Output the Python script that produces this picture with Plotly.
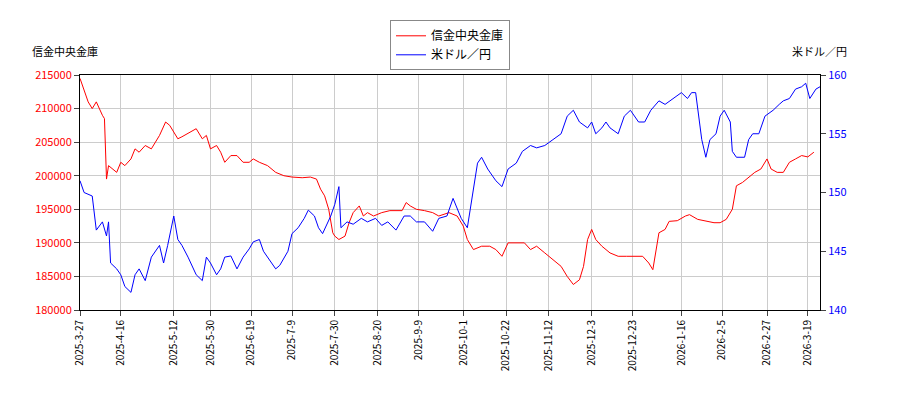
import plotly.graph_objects as go

# 信金中央金庫 (left axis)
shinkin_dates = ['2025-03-27','2025-03-31','2025-04-02','2025-04-04','2025-04-07','2025-04-08','2025-04-09','2025-04-10','2025-04-14','2025-04-16','2025-04-18','2025-04-21','2025-04-23','2025-04-25','2025-04-28','2025-05-01','2025-05-05','2025-05-08','2025-05-10','2025-05-12','2025-05-14','2025-05-16','2025-05-20','2025-05-23','2025-05-26','2025-05-28','2025-05-30','2025-06-02','2025-06-04','2025-06-06','2025-06-09','2025-06-12','2025-06-15','2025-06-18','2025-06-20','2025-06-23','2025-06-27','2025-07-01','2025-07-05','2025-07-09','2025-07-14','2025-07-18','2025-07-21','2025-07-23','2025-07-25','2025-07-27','2025-07-29','2025-07-30','2025-08-01','2025-08-04','2025-08-06','2025-08-08','2025-08-11','2025-08-13','2025-08-15','2025-08-18','2025-08-22','2025-08-26','2025-09-01','2025-09-03','2025-09-05','2025-09-08','2025-09-12','2025-09-16','2025-09-19','2025-09-24','2025-09-28','2025-10-01','2025-10-03','2025-10-06','2025-10-10','2025-10-14','2025-10-17','2025-10-20','2025-10-23','2025-10-27','2025-10-31','2025-11-03','2025-11-06','2025-11-10','2025-11-14','2025-11-18','2025-11-21','2025-11-24','2025-11-27','2025-11-29','2025-12-01','2025-12-03','2025-12-05','2025-12-08','2025-12-12','2025-12-16','2025-12-20','2025-12-24','2025-12-28','2025-12-31','2026-01-02','2026-01-05','2026-01-08','2026-01-10','2026-01-14','2026-01-18','2026-01-20','2026-01-24','2026-01-28','2026-02-01','2026-02-04','2026-02-07','2026-02-10','2026-02-12','2026-02-15','2026-02-18','2026-02-21','2026-02-24','2026-02-27','2026-03-01','2026-03-04','2026-03-07','2026-03-10','2026-03-13','2026-03-16','2026-03-19','2026-03-22']
shinkin = [214500,211000,210000,211000,209000,208500,199500,201500,200500,202000,201500,202500,204000,203500,204500,204000,206000,208000,207500,206500,205500,205800,206500,207000,205500,206000,204000,204500,203500,202000,203000,203000,202000,202000,202500,202000,201500,200500,200000,199800,199700,199800,199500,198000,197000,195000,191500,191000,190500,191000,193000,194500,195500,194000,194500,194000,194500,194800,194800,196000,195500,195000,194800,194500,194000,194500,194000,192500,190500,189000,189500,189500,189000,188000,190000,190000,190000,189000,189500,188500,187500,186500,185000,183800,184500,186500,190500,192000,190500,189500,188500,188000,188000,188000,188000,187000,186000,191500,192000,193200,193300,194000,194200,193500,193300,193000,193000,193500,195000,198500,199000,199800,200500,201000,202500,201000,200500,200500,202000,202500,203000,202800,203500]

# 米ドル／円 (right axis)
usd_dates = ['2025-03-27','2025-03-29','2025-04-02','2025-04-04','2025-04-07','2025-04-09','2025-04-10','2025-04-11','2025-04-14','2025-04-16','2025-04-18','2025-04-21','2025-04-23','2025-04-25','2025-04-28','2025-05-01','2025-05-05','2025-05-07','2025-05-09','2025-05-12','2025-05-14','2025-05-16','2025-05-19','2025-05-21','2025-05-23','2025-05-26','2025-05-28','2025-05-30','2025-06-02','2025-06-04','2025-06-06','2025-06-09','2025-06-12','2025-06-15','2025-06-18','2025-06-20','2025-06-23','2025-06-25','2025-06-27','2025-07-01','2025-07-03','2025-07-07','2025-07-09','2025-07-12','2025-07-15','2025-07-17','2025-07-20','2025-07-22','2025-07-24','2025-07-28','2025-07-30','2025-08-01','2025-08-02','2025-08-05','2025-08-08','2025-08-12','2025-08-15','2025-08-19','2025-08-22','2025-08-25','2025-08-29','2025-09-02','2025-09-05','2025-09-08','2025-09-12','2025-09-16','2025-09-19','2025-09-23','2025-09-26','2025-09-30','2025-10-03','2025-10-06','2025-10-08','2025-10-10','2025-10-13','2025-10-17','2025-10-20','2025-10-23','2025-10-27','2025-10-30','2025-11-03','2025-11-06','2025-11-10','2025-11-14','2025-11-18','2025-11-21','2025-11-24','2025-11-27','2025-12-01','2025-12-03','2025-12-05','2025-12-08','2025-12-10','2025-12-12','2025-12-16','2025-12-19','2025-12-22','2025-12-26','2025-12-29','2026-01-01','2026-01-05','2026-01-08','2026-01-12','2026-01-14','2026-01-16','2026-01-19','2026-01-21','2026-01-23','2026-01-26','2026-01-28','2026-01-30','2026-02-02','2026-02-04','2026-02-06','2026-02-09','2026-02-10','2026-02-12','2026-02-16','2026-02-18','2026-02-20','2026-02-23','2026-02-26','2026-03-02','2026-03-05','2026-03-07','2026-03-10','2026-03-13','2026-03-16','2026-03-18','2026-03-20','2026-03-23','2026-03-25']
usd = [151,150,149.7,146.8,147.5,146.3,147.5,144,143.5,143,142,141.5,143,143.5,142.5,144.5,145.5,144,145.5,148,146,145.5,144.5,143.8,143,142.5,144.5,144,143,143.5,144.5,144.6,143.5,144.5,145.2,145.8,146,145,144.5,143.5,143.8,145,146.5,147,147.8,148.5,148,147,146.5,148,149,150.5,147,147.5,147.3,147.8,147.5,147.8,147.2,147.5,146.8,148,148,147.5,147.5,146.7,147.8,148,149.5,147.8,147,150.5,152.5,153,152,151,150.5,152,152.5,153.5,154,153.8,154,154.5,155,156.5,157,156,155.5,156,155,155.5,156,155.5,155,156.5,157,156,156,157,157.8,157.5,158,158.2,158.5,158,158.5,158.5,154.5,153,154.5,155,156.5,157,156,153.5,153,153,154.5,155,155,156.5,157,157.5,157.8,158,158.8,159,159.3,158,158.8,159]

tick_vals = ['2025-03-27','2025-04-16','2025-05-12','2025-05-30','2025-06-19','2025-07-09','2025-07-30','2025-08-20','2025-09-09','2025-10-01','2025-10-22','2025-11-12','2025-12-03','2025-12-23','2026-01-16','2026-02-05','2026-02-27','2026-03-19']
tick_text = ['2025-3-27','2025-4-16','2025-5-12','2025-5-30','2025-6-19','2025-7-9','2025-7-30','2025-8-20','2025-9-9','2025-10-1','2025-10-22','2025-11-12','2025-12-3','2025-12-23','2026-1-16','2026-2-5','2026-2-27','2026-3-19']

fig = go.Figure()
fig.add_trace(go.Scatter(x=shinkin_dates, y=shinkin, name='信金中央金庫', mode='lines',
                         line=dict(color='red', width=1)))
fig.add_trace(go.Scatter(x=usd_dates, y=usd, name='米ドル／円', mode='lines',
                         line=dict(color='blue', width=1), yaxis='y2'))

fig.update_layout(
    width=900, height=400,
    margin=dict(l=72, r=88, t=62, b=98),
    plot_bgcolor='white', paper_bgcolor='white',
    font=dict(family='Noto Sans CJK JP', size=11, color='black'),
    showlegend=True,
    legend=dict(x=0.5, y=1.02, xanchor='center', yanchor='bottom', bordercolor='#888',
                borderwidth=1, font=dict(size=12)),
    xaxis=dict(range=['2025-03-27', '2026-03-25'], tickvals=tick_vals, ticktext=tick_text,
               tickangle=-90, showgrid=True, gridcolor='#ccc', showline=True,
               linecolor='black', mirror=True, ticks='outside', tickfont=dict(size=10)),
    yaxis=dict(range=[180000, 215000], dtick=5000, showgrid=True, gridcolor='#ccc',
               showline=True, linecolor='black', ticks='outside', tickformat='d',
               tickfont=dict(color='red')),
    yaxis2=dict(range=[140, 160], dtick=5, overlaying='y', side='right', showgrid=False,
                showline=True, linecolor='black', ticks='outside',
                tickfont=dict(color='blue')),
    annotations=[
        dict(text='信金中央金庫', x=0, y=1.06, xref='paper', yref='paper', xanchor='right',
             xshift=20, yanchor='bottom', showarrow=False),
        dict(text='米ドル／円', x=1, y=1.06, xref='paper', yref='paper', xanchor='left',
             xshift=-30, yanchor='bottom', showarrow=False),
    ],
)

fig.write_html("out.html")
